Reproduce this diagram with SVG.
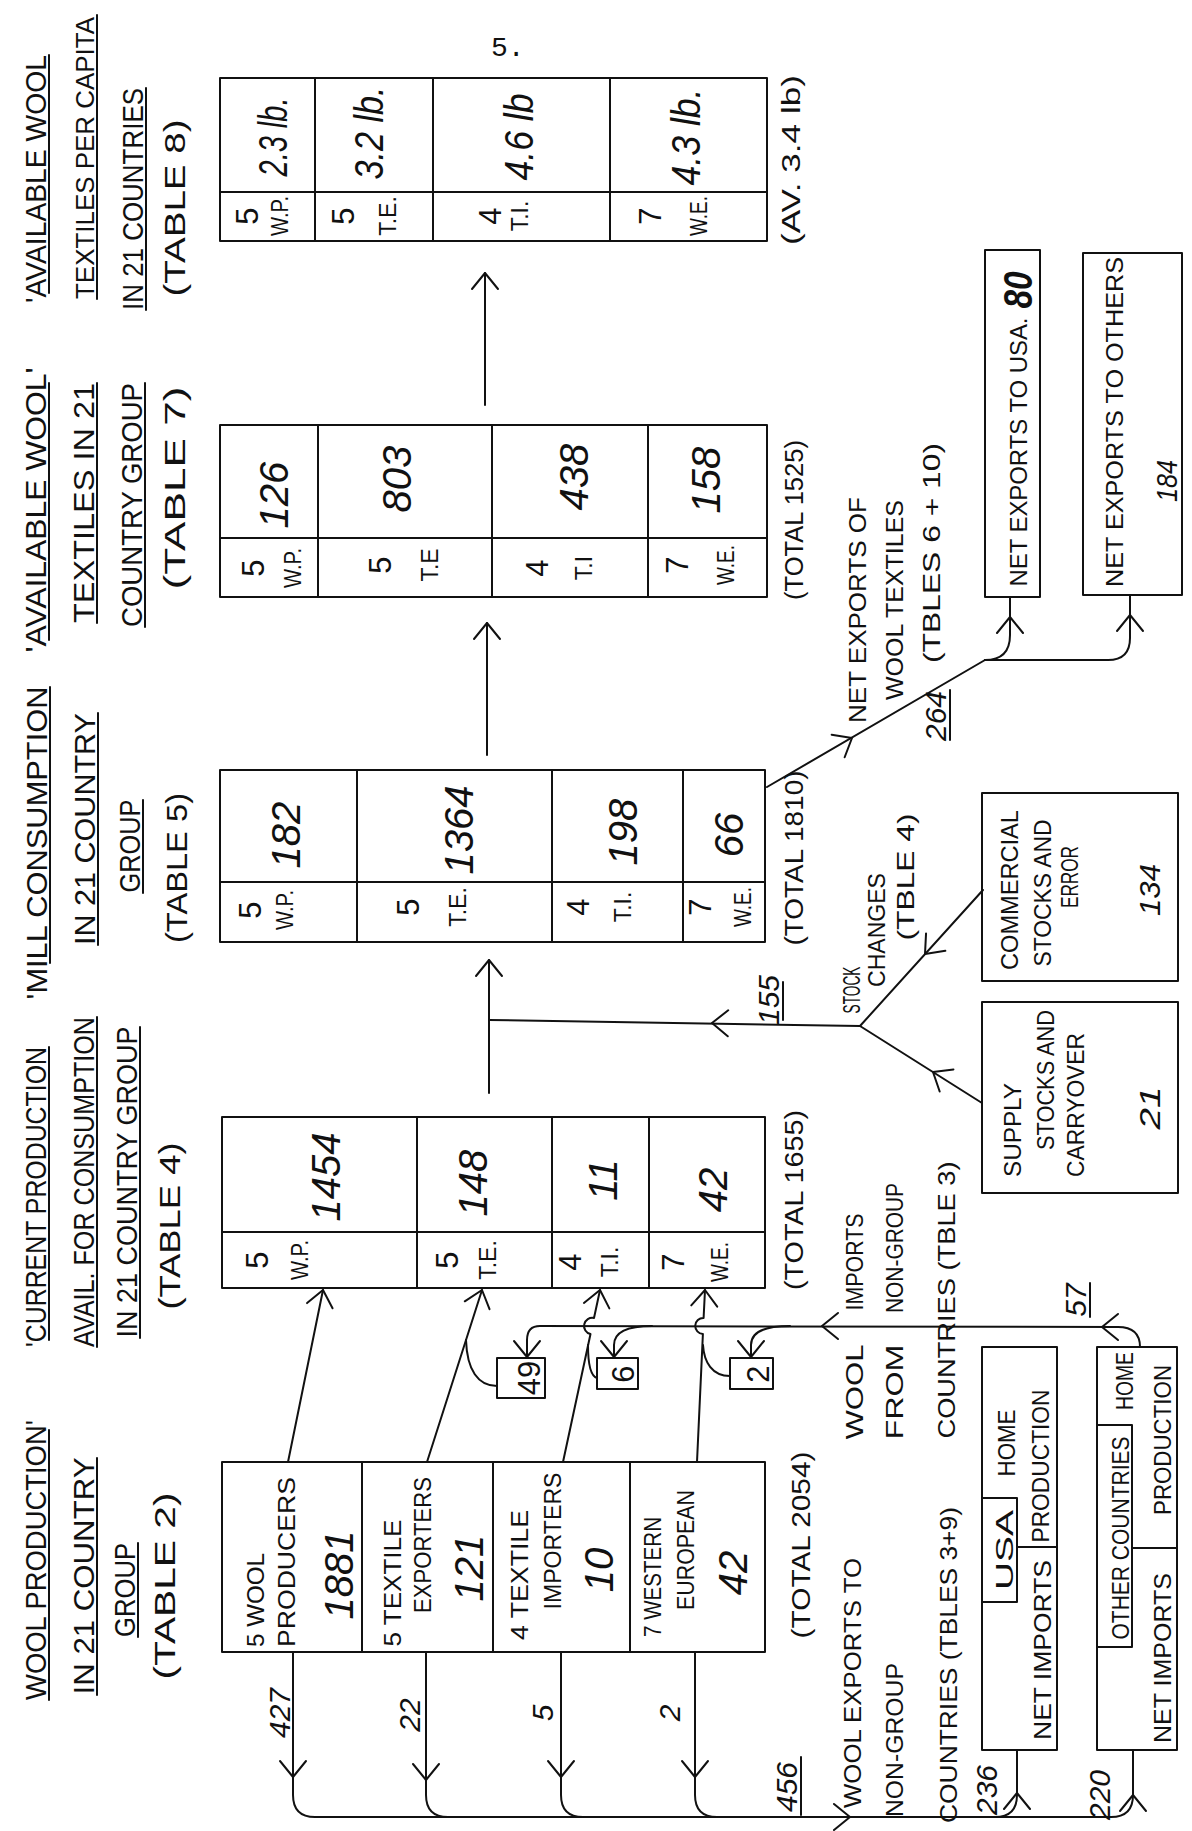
<svg xmlns="http://www.w3.org/2000/svg" width="1192" height="1831" viewBox="0 0 1192 1831">
<style>
text{font-family:"Liberation Sans",Arial,sans-serif;fill:#111;text-anchor:middle}
.h{font-size:29px}
.t{font-size:24px}
.a{font-size:23px}
.d{font-size:31px}
.v{font-size:40px;font-style:italic}
.n{font-size:30px;font-style:italic}
.tt{font-size:26px}
.ln,.bx,.c{fill:none;stroke:#111;stroke-width:2;stroke-linecap:round;stroke-linejoin:round}
</style>
<defs>
<path id="ah" d="M-16,-13 L0,0 L-16,13" fill="none" stroke="#111" stroke-width="2" stroke-linecap="round" stroke-linejoin="round"/>
</defs>
<rect width="1192" height="1831" fill="#fff"/>
<text x="491" y="56" style="font-family:'Liberation Mono',monospace;font-size:28px;text-anchor:start">5.</text>

<!-- Headers -->
<g id="header-table8">
<text class="h" transform="translate(46,179) rotate(-90)" textLength="248" lengthAdjust="spacingAndGlyphs">'AVAILABLE WOOL</text>
<text class="h" transform="translate(94,158) rotate(-90)" style="font-size:26px" textLength="282" lengthAdjust="spacingAndGlyphs">TEXTILES PER CAPITA</text>
<text class="h" transform="translate(143,199) rotate(-90)" textLength="222" lengthAdjust="spacingAndGlyphs">IN 21 COUNTRIES</text>
<text class="h" transform="translate(185,208) rotate(-90)" textLength="177" lengthAdjust="spacingAndGlyphs">(TABLE 8)</text>
<path class="ln" d="M49,55V293M97,15V299M146,88V310"/>
</g>
<g id="header-table7">
<text class="h" transform="translate(46,510) rotate(-90)" textLength="285" lengthAdjust="spacingAndGlyphs">'AVAILABLE WOOL'</text>
<text class="h" transform="translate(94,503) rotate(-90)" textLength="240" lengthAdjust="spacingAndGlyphs">TEXTILES IN 21</text>
<text class="h" transform="translate(142,505) rotate(-90)" textLength="244" lengthAdjust="spacingAndGlyphs">COUNTRY GROUP</text>
<text class="h" transform="translate(185,488) rotate(-90)" textLength="203" lengthAdjust="spacingAndGlyphs">(TABLE 7)</text>
<path class="ln" d="M49,383V640M97,383V623M145,383V627"/>
</g>
<g id="header-table5">
<text class="h" transform="translate(47,843) rotate(-90)" textLength="313" lengthAdjust="spacingAndGlyphs">'MILL CONSUMPTION</text>
<text class="h" transform="translate(95,829) rotate(-90)" textLength="232" lengthAdjust="spacingAndGlyphs">IN 21 COUNTRY</text>
<text class="h" transform="translate(140,846) rotate(-90)" textLength="93" lengthAdjust="spacingAndGlyphs">GROUP</text>
<text class="h" transform="translate(187,868) rotate(-90)" textLength="150" lengthAdjust="spacingAndGlyphs">(TABLE 5)</text>
<path class="ln" d="M50,687V963M98,713V945M143,800V893"/>
</g>
<g id="header-table4">
<text class="h" transform="translate(46,1197) rotate(-90)" textLength="300" lengthAdjust="spacingAndGlyphs">'CURRENT PRODUCTION</text>
<text class="h" transform="translate(94,1182) rotate(-90)" textLength="330" lengthAdjust="spacingAndGlyphs">AVAIL. FOR CONSUMPTION</text>
<text class="h" transform="translate(137,1182) rotate(-90)" textLength="311" lengthAdjust="spacingAndGlyphs">IN 21 COUNTRY GROUP</text>
<text class="h" transform="translate(180,1226) rotate(-90)" textLength="167" lengthAdjust="spacingAndGlyphs">(TABLE 4)</text>
<path class="ln" d="M49,1047V1340M97,1017V1347M140,1027V1338"/>
</g>
<g id="header-table2">
<text class="h" transform="translate(46,1560) rotate(-90)" textLength="280" lengthAdjust="spacingAndGlyphs">WOOL PRODUCTION'</text>
<text class="h" transform="translate(94,1576) rotate(-90)" textLength="237" lengthAdjust="spacingAndGlyphs">IN 21 COUNTRY</text>
<text class="h" transform="translate(135,1590) rotate(-90)" textLength="94" lengthAdjust="spacingAndGlyphs">GROUP</text>
<text class="h" transform="translate(175,1586) rotate(-90)" textLength="187" lengthAdjust="spacingAndGlyphs">(TABLE 2)</text>
<path class="ln" d="M49,1430V1700M97,1458V1695M138,1543V1637"/>
</g>

<!-- Table 8 -->
<g id="table8">
<rect class="bx" x="220" y="78" width="547" height="163"/>
<path class="ln" d="M220,192H767M315,78V241M433,78V241M610,78V241"/>
<text class="v" transform="translate(287,137) rotate(-90)" textLength="79" lengthAdjust="spacingAndGlyphs">2.3 lb.</text>
<text class="v" transform="translate(383,133) rotate(-90)" textLength="93" lengthAdjust="spacingAndGlyphs">3.2 lb.</text>
<text class="v" transform="translate(533,137) rotate(-90)" textLength="87" lengthAdjust="spacingAndGlyphs">4.6 lb</text>
<text class="v" transform="translate(700,137) rotate(-90)" textLength="97" lengthAdjust="spacingAndGlyphs">4.3 lb.</text>
<text class="d" transform="translate(258,216) rotate(-90)">5</text>
<text class="a" transform="translate(288,216) rotate(-90)" textLength="40" lengthAdjust="spacingAndGlyphs">W.P.</text>
<text class="d" transform="translate(354,216) rotate(-90)">5</text>
<text class="a" transform="translate(396,216) rotate(-90)">T.E.</text>
<text class="d" transform="translate(501,216) rotate(-90)">4</text>
<text class="a" transform="translate(528,216) rotate(-90)">T.I.</text>
<text class="d" transform="translate(661,216) rotate(-90)">7</text>
<text class="a" transform="translate(707,216) rotate(-90)" textLength="40" lengthAdjust="spacingAndGlyphs">W.E.</text>
<text class="tt" transform="translate(800,160) rotate(-90)" textLength="170" lengthAdjust="spacingAndGlyphs">(AV. 3.4 lb)</text>
</g>

<!-- Table 7 -->
<g id="table7">
<rect class="bx" x="220" y="425" width="547" height="172"/>
<path class="ln" d="M220,538H767M318,425V597M492,425V597M648,425V597"/>
<text class="v" transform="translate(288,495) rotate(-90)">126</text>
<text class="v" transform="translate(411,479) rotate(-90)">803</text>
<text class="v" transform="translate(588,477) rotate(-90)">438</text>
<text class="v" transform="translate(720,480) rotate(-90)">158</text>
<text class="d" transform="translate(264,568) rotate(-90)">5</text>
<text class="a" transform="translate(301,568) rotate(-90)" textLength="40" lengthAdjust="spacingAndGlyphs">W.P.</text>
<text class="d" transform="translate(391,565) rotate(-90)">5</text>
<text class="a" transform="translate(438,565) rotate(-90)">T.E</text>
<text class="d" transform="translate(548,568) rotate(-90)">4</text>
<text class="a" transform="translate(592,568) rotate(-90)">T.I</text>
<text class="d" transform="translate(688,565) rotate(-90)">7</text>
<text class="a" transform="translate(734,565) rotate(-90)" textLength="40" lengthAdjust="spacingAndGlyphs">W.E.</text>
<text class="tt" transform="translate(803,520) rotate(-90)" textLength="160" lengthAdjust="spacingAndGlyphs">(TOTAL 1525)</text>
</g>

<!-- Table 5 -->
<g id="table5">
<rect class="bx" x="220" y="770" width="545" height="172"/>
<path class="ln" d="M220,882H765M357,770V942M552,770V942M683,770V942"/>
<text class="v" transform="translate(300,835) rotate(-90)">182</text>
<text class="v" transform="translate(473,830) rotate(-90)">1364</text>
<text class="v" transform="translate(637,832) rotate(-90)">198</text>
<text class="v" transform="translate(743,835) rotate(-90)">66</text>
<text class="d" transform="translate(261,910) rotate(-90)">5</text>
<text class="a" transform="translate(293,910) rotate(-90)" textLength="40" lengthAdjust="spacingAndGlyphs">W.P.</text>
<text class="d" transform="translate(419,907) rotate(-90)">5</text>
<text class="a" transform="translate(466,907) rotate(-90)">T.E.</text>
<text class="d" transform="translate(589,907) rotate(-90)">4</text>
<text class="a" transform="translate(631,907) rotate(-90)">T.I.</text>
<text class="d" transform="translate(711,907) rotate(-90)">7</text>
<text class="a" transform="translate(751,907) rotate(-90)" textLength="40" lengthAdjust="spacingAndGlyphs">W.E.</text>
<text class="tt" transform="translate(803,858) rotate(-90)" textLength="175" lengthAdjust="spacingAndGlyphs">(TOTAL 1810)</text>
</g>

<!-- Table 4 -->
<g id="table4">
<rect class="bx" x="222" y="1117" width="543" height="171"/>
<path class="ln" d="M222,1232H765M417,1117V1288M552,1117V1288M649,1117V1288"/>
<text class="v" transform="translate(340,1177) rotate(-90)">1454</text>
<text class="v" transform="translate(487,1183) rotate(-90)">148</text>
<text class="v" transform="translate(617,1180) rotate(-90)">11</text>
<text class="v" transform="translate(727,1190) rotate(-90)">42</text>
<text class="d" transform="translate(268,1260) rotate(-90)">5</text>
<text class="a" transform="translate(308,1260) rotate(-90)" textLength="40" lengthAdjust="spacingAndGlyphs">W.P.</text>
<text class="d" transform="translate(458,1260) rotate(-90)">5</text>
<text class="a" transform="translate(496,1260) rotate(-90)">T.E.</text>
<text class="d" transform="translate(581,1262) rotate(-90)">4</text>
<text class="a" transform="translate(618,1262) rotate(-90)">T.I.</text>
<text class="d" transform="translate(684,1262) rotate(-90)">7</text>
<text class="a" transform="translate(728,1262) rotate(-90)" textLength="40" lengthAdjust="spacingAndGlyphs">W.E.</text>
<text class="tt" transform="translate(803,1200) rotate(-90)" textLength="180" lengthAdjust="spacingAndGlyphs">(TOTAL 1655)</text>
</g>

<!-- Table 2 -->
<g id="table2">
<rect class="bx" x="222" y="1462" width="543" height="190"/>
<path class="ln" d="M362,1462V1652M493,1462V1652M630,1462V1652"/>
<text class="t" transform="translate(264,1600) rotate(-90)" textLength="94" lengthAdjust="spacingAndGlyphs">5 WOOL</text>
<text class="t" transform="translate(295,1562) rotate(-90)" textLength="170" lengthAdjust="spacingAndGlyphs">PRODUCERS</text>
<text class="v" transform="translate(353,1575) rotate(-90)">1881</text>
<text class="t" transform="translate(401,1583) rotate(-90)" textLength="127" lengthAdjust="spacingAndGlyphs">5 TEXTILE</text>
<text class="t" transform="translate(431,1545) rotate(-90)" textLength="136" lengthAdjust="spacingAndGlyphs">EXPORTERS</text>
<text class="v" transform="translate(483,1568) rotate(-90)">121</text>
<text class="t" transform="translate(528,1575) rotate(-90)" textLength="130" lengthAdjust="spacingAndGlyphs">4 TEXTILE</text>
<text class="t" transform="translate(561,1541) rotate(-90)" textLength="137" lengthAdjust="spacingAndGlyphs">IMPORTERS</text>
<text class="v" transform="translate(613,1570) rotate(-90)">10</text>
<text class="t" transform="translate(661,1577) rotate(-90)" textLength="120" lengthAdjust="spacingAndGlyphs">7 WESTERN</text>
<text class="t" transform="translate(694,1550) rotate(-90)" textLength="120" lengthAdjust="spacingAndGlyphs">EUROPEAN</text>
<text class="v" transform="translate(747,1573) rotate(-90)">42</text>
<text class="tt" transform="translate(810,1545) rotate(-90)" textLength="187" lengthAdjust="spacingAndGlyphs">(TOTAL 2054)</text>
</g>

<!-- Right-hand boxes -->
<g id="net-exports-usa">
<rect class="bx" x="985" y="250" width="55" height="347"/>
<text class="t" transform="translate(1027,452) rotate(-90)" textLength="269" lengthAdjust="spacingAndGlyphs">NET EXPORTS TO USA.</text>
<text class="v" transform="translate(1032,290) rotate(-90)" style="font-weight:bold" textLength="37" lengthAdjust="spacingAndGlyphs">80</text>
</g>
<g id="net-exports-others">
<rect class="bx" x="1083" y="253" width="99" height="342"/>
<text class="t" transform="translate(1123,422) rotate(-90)" textLength="330" lengthAdjust="spacingAndGlyphs">NET EXPORTS TO OTHERS</text>
<text class="n" transform="translate(1177,481) rotate(-90)" textLength="42" lengthAdjust="spacingAndGlyphs">184</text>
</g>
<g id="commercial-stocks">
<rect class="bx" x="982" y="793" width="196" height="188"/>
<text class="t" transform="translate(1018,890) rotate(-90)" textLength="160" lengthAdjust="spacingAndGlyphs">COMMERCIAL</text>
<text class="t" transform="translate(1051,893) rotate(-90)" textLength="147" lengthAdjust="spacingAndGlyphs">STOCKS AND</text>
<text class="t" transform="translate(1078,877) rotate(-90)" textLength="62" lengthAdjust="spacingAndGlyphs">ERROR</text>
<text class="n" transform="translate(1160,890) rotate(-90)" textLength="52" lengthAdjust="spacingAndGlyphs">134</text>
</g>
<g id="supply-stocks">
<rect class="bx" x="982" y="1002" width="196" height="191"/>
<text class="t" transform="translate(1021,1130) rotate(-90)" textLength="94" lengthAdjust="spacingAndGlyphs">SUPPLY</text>
<text class="t" transform="translate(1054,1080) rotate(-90)" textLength="140" lengthAdjust="spacingAndGlyphs">STOCKS AND</text>
<text class="t" transform="translate(1084,1105) rotate(-90)" textLength="144" lengthAdjust="spacingAndGlyphs">CARRYOVER</text>
<text class="n" transform="translate(1160,1108) rotate(-90)" textLength="43" lengthAdjust="spacingAndGlyphs">21</text>
</g>
<g id="usa-box">
<rect class="bx" x="982" y="1347" width="75" height="403"/>
<rect class="bx" x="982" y="1498" width="35" height="104"/>
<path class="ln" d="M1017,1547H1057"/>
<text class="t" transform="translate(1013,1550) rotate(-90)" textLength="80" lengthAdjust="spacingAndGlyphs">USA</text>
<text class="t" transform="translate(1015,1443) rotate(-90)" textLength="67" lengthAdjust="spacingAndGlyphs">HOME</text>
<text class="t" transform="translate(1049,1466) rotate(-90)" textLength="153" lengthAdjust="spacingAndGlyphs">PRODUCTION</text>
<text class="t" transform="translate(1051,1650) rotate(-90)" textLength="180" lengthAdjust="spacingAndGlyphs">NET IMPORTS</text>
</g>
<g id="other-countries-box">
<rect class="bx" x="1097" y="1347" width="80" height="403"/>
<rect class="bx" x="1097" y="1425" width="35" height="222"/>
<path class="ln" d="M1132,1548H1177"/>
<text class="t" transform="translate(1129,1538) rotate(-90)" textLength="203" lengthAdjust="spacingAndGlyphs">OTHER COUNTRIES</text>
<text class="t" transform="translate(1133,1381) rotate(-90)" textLength="58" lengthAdjust="spacingAndGlyphs">HOME</text>
<text class="t" transform="translate(1171,1440) rotate(-90)" textLength="150" lengthAdjust="spacingAndGlyphs">PRODUCTION</text>
<text class="t" transform="translate(1171,1658) rotate(-90)" textLength="170" lengthAdjust="spacingAndGlyphs">NET IMPORTS</text>
</g>
<g id="box-49">
<rect class="bx" x="497" y="1358" width="48" height="40"/>
<text class="d" transform="translate(540,1378) rotate(-90)">49</text>
</g>
<g id="box-6">
<rect class="bx" x="597" y="1358" width="41" height="31"/>
<text class="d" transform="translate(634,1374) rotate(-90)">6</text>
</g>
<g id="box-2">
<rect class="bx" x="730" y="1358" width="43" height="31"/>
<text class="d" transform="translate(769,1374) rotate(-90)">2</text>
</g>

<!-- Labels -->
<g id="labels">
<text class="t" transform="translate(860,990) rotate(-90)" textLength="47" lengthAdjust="spacingAndGlyphs">STOCK</text>
<text class="t" transform="translate(885,930) rotate(-90)" textLength="114" lengthAdjust="spacingAndGlyphs">CHANGES</text>
<text class="t" transform="translate(914,877) rotate(-90)" textLength="127" lengthAdjust="spacingAndGlyphs">(TBLE 4)</text>
<text class="t" transform="translate(866,610) rotate(-90)" textLength="226" lengthAdjust="spacingAndGlyphs">NET EXPORTS OF</text>
<text class="t" transform="translate(903,600) rotate(-90)" textLength="200" lengthAdjust="spacingAndGlyphs">WOOL TEXTILES</text>
<text class="t" transform="translate(940,553) rotate(-90)" textLength="220" lengthAdjust="spacingAndGlyphs">(TBLES 6 + 10)</text>
<text class="t" transform="translate(863,1392) rotate(-90)" textLength="95" lengthAdjust="spacingAndGlyphs">WOOL</text>
<text class="t" transform="translate(863,1262) rotate(-90)" textLength="97" lengthAdjust="spacingAndGlyphs">IMPORTS</text>
<text class="t" transform="translate(903,1392) rotate(-90)" textLength="95" lengthAdjust="spacingAndGlyphs">FROM</text>
<text class="t" transform="translate(903,1248) rotate(-90)" textLength="130" lengthAdjust="spacingAndGlyphs">NON-GROUP</text>
<text class="t" transform="translate(955,1300) rotate(-90)" textLength="277" lengthAdjust="spacingAndGlyphs">COUNTRIES (TBLE 3)</text>
<text class="t" transform="translate(861,1683) rotate(-90)" textLength="250" lengthAdjust="spacingAndGlyphs">WOOL EXPORTS TO</text>
<text class="t" transform="translate(903,1740) rotate(-90)" textLength="154" lengthAdjust="spacingAndGlyphs">NON-GROUP</text>
<text class="t" transform="translate(957,1665) rotate(-90)" textLength="316" lengthAdjust="spacingAndGlyphs">COUNTRIES (TBLES 3+9)</text>
<text class="n" transform="translate(290,1713) rotate(-90)">427</text>
<text class="n" transform="translate(420,1715) rotate(-90)">22</text>
<text class="n" transform="translate(553,1713) rotate(-90)">5</text>
<text class="n" transform="translate(680,1713) rotate(-90)">2</text>
<text class="n" transform="translate(797,1787) rotate(-90)">456</text>
<text class="n" transform="translate(779,1000) rotate(-90)">155</text>
<text class="n" transform="translate(1086,1300) rotate(-90)">57</text>
<text class="n" transform="translate(946,716) rotate(-90)">264</text>
<text class="n" transform="translate(997,1790) rotate(-90)">236</text>
<text class="n" transform="translate(1110,1795) rotate(-90)">220</text>
<path class="ln" d="M801,1757V1815M783,982V1020M1090,1283V1317M950,690V740"/>
</g>

<!-- Connectors -->
<g id="connectors">
<path class="c" d="M485,405V273"/>
<use href="#ah" transform="translate(485,273) rotate(-90)"/>
<path class="c" d="M487,755V623"/>
<use href="#ah" transform="translate(487,623) rotate(-90)"/>
<path class="c" d="M489,1093V960"/>
<use href="#ah" transform="translate(489,960) rotate(-90)"/>
<path class="c" d="M860,1026L489,1020"/>
<use href="#ah" transform="translate(712,1023) rotate(181)"/>
<path class="c" d="M983,890L860,1026"/>
<use href="#ah" transform="translate(925,954) rotate(132)"/>
<path class="c" d="M982,1103L860,1026"/>
<use href="#ah" transform="translate(933,1072) rotate(212)"/>
<path class="c" d="M767,787L985,660"/>
<use href="#ah" transform="translate(852,738) rotate(-30)"/>
<path class="c" d="M985,660Q1010,660 1010,635V597"/>
<use href="#ah" transform="translate(1010,617) rotate(-90)"/>
<path class="c" d="M985,660H1108Q1130,660 1130,638V595"/>
<use href="#ah" transform="translate(1130,615) rotate(-90)"/>
<path class="c" d="M288,1462L323,1290"/>
<use href="#ah" transform="translate(323,1290) rotate(-78.5)"/>
<path class="c" d="M427,1462L482,1290"/>
<use href="#ah" transform="translate(482,1290) rotate(-72.3)"/>
<path class="c" d="M563,1462L590.5,1334A8,8 0 0 1 594,1318L600,1290"/>
<use href="#ah" transform="translate(600,1290) rotate(-77.9)"/>
<path class="c" d="M697,1462L702.9,1334A8,8 0 0 1 703.6,1318L705,1290"/>
<use href="#ah" transform="translate(705,1290) rotate(-87.3)"/>
<path class="c" d="M497,1386C478,1386 467,1370 466,1340"/>
<path class="c" d="M597,1378C590,1376 588,1362 588,1345"/>
<path class="c" d="M730,1376C712,1376 704,1362 703,1345"/>
<path class="c" d="M1140,1347Q1140,1327 1118,1327L540,1326Q527,1326 527,1340V1357"/>
<use href="#ah" transform="translate(527,1357) rotate(90)"/>
<use href="#ah" transform="translate(822,1326) rotate(180)"/>
<use href="#ah" transform="translate(1102,1327) rotate(180)"/>
<path class="c" d="M652,1326Q614,1326 614,1345V1357"/>
<use href="#ah" transform="translate(614,1357) rotate(90)"/>
<path class="c" d="M790,1326Q751,1326 751,1345V1357"/>
<use href="#ah" transform="translate(751,1357) rotate(90)"/>
<path class="c" d="M293,1652V1795Q293,1817 315,1817H1111Q1133,1817 1133,1795V1750"/>
<path class="c" d="M426,1652V1795Q426,1817 448,1817"/>
<path class="c" d="M561,1652V1795Q561,1817 583,1817"/>
<path class="c" d="M695,1652V1795Q695,1817 717,1817"/>
<path class="c" d="M995,1817Q1017,1817 1017,1795V1750"/>
<use href="#ah" transform="translate(293,1777) rotate(90)"/>
<use href="#ah" transform="translate(426,1780) rotate(90)"/>
<use href="#ah" transform="translate(561,1777) rotate(90)"/>
<use href="#ah" transform="translate(695,1777) rotate(90)"/>
<use href="#ah" transform="translate(850,1817)"/>
<use href="#ah" transform="translate(1017,1793) rotate(-90)"/>
<use href="#ah" transform="translate(1133,1795) rotate(-90)"/>
</g>
</svg>
